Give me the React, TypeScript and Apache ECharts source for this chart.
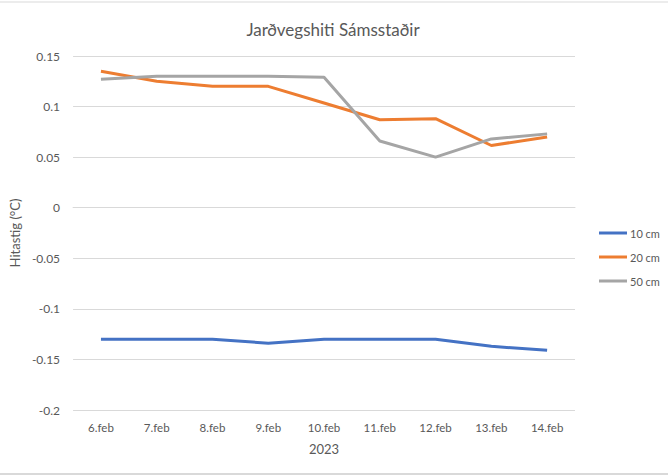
import React, { useEffect, useRef } from "react";
import * as echarts from "echarts";

const categories = ["6.feb", "7.feb", "8.feb", "9.feb", "10.feb", "11.feb", "12.feb", "13.feb", "14.feb"];
const s10 = [-0.13, -0.13, -0.13, -0.134, -0.13, -0.13, -0.13, -0.137, -0.141];
const s20 = [0.135, 0.125, 0.12, 0.12, 0.1035, 0.087, 0.088, 0.0615, 0.07];
const s50 = [0.127, 0.13, 0.13, 0.13, 0.129, 0.066, 0.05, 0.068, 0.073];
const seriesNames = ["10 cm", "20 cm", "50 cm"];
const colors = ["#4472C4", "#ED7D31", "#A5A5A5"];

const FONT = "Lato, 'Open Sans', sans-serif";
const TXT = "#595959";

export default function App() {
  const ref = useRef<HTMLDivElement>(null);
  useEffect(() => {
    if (!ref.current) return;
    const chart = echarts.init(ref.current, undefined, { renderer: "svg" });
    const data = [s10, s20, s50];
    chart.setOption({
      animation: false,
      backgroundColor: "#ffffff",
      textStyle: { fontFamily: FONT },
      title: {
        text: "Jarðvegshiti Sámsstaðir",
        left: 328,
        top: 16,
        textAlign: "center",
        textStyle: { fontFamily: FONT, fontSize: 17, fontWeight: "normal", color: TXT },
      },
      graphic: [
        { type: "line", shape: { x1: 0, y1: 2, x2: 668, y2: 2 }, style: { stroke: "#d9d9d9", lineWidth: 1 } },
        { type: "line", shape: { x1: 0, y1: 474, x2: 668, y2: 474 }, style: { stroke: "#d9d9d9", lineWidth: 2 } },
      ],
      legend: {
        orient: "vertical",
        left: 594,
        top: 221,
        itemWidth: 28,
        itemHeight: 3,
        itemGap: 10,
        icon: "rect",
        data: seriesNames,
        textStyle: { fontFamily: FONT, fontSize: 11, color: TXT, lineHeight: 14, padding: [0, 0, 0, -2] },
      },
      grid: { left: 63, right: 93, top: 56, bottom: 66, containLabel: false },
      xAxis: {
        type: "category",
        data: categories,
        boundaryGap: true,
        name: "2023",
        nameLocation: "middle",
        nameGap: 32,
        nameTextStyle: { fontFamily: FONT, fontSize: 13, color: TXT },
        axisLine: { show: true, lineStyle: { color: "#d9d9d9", width: 1 } },
        axisTick: { show: false },
        axisLabel: { fontFamily: FONT, fontSize: 11.5, color: TXT, margin: 11 },
      },
      yAxis: {
        type: "value",
        min: -0.2,
        max: 0.15,
        interval: 0.05,
        name: "Hitastig (°C)",
        nameLocation: "middle",
        nameGap: 51,
        nameTextStyle: { fontFamily: FONT, fontSize: 13, color: TXT },
        axisLine: { show: false },
        axisTick: { show: false },
        splitLine: { lineStyle: { color: "#d9d9d9", width: 1 } },
        axisLabel: {
          fontFamily: FONT,
          fontSize: 12,
          color: TXT,
          margin: 13,
          formatter: (v: number) => String(Math.round(v * 100) / 100),
        },
      },
      series: seriesNames.map((n, i) => ({
        name: n,
        type: "line",
        data: data[i],
        symbol: "none",
        color: colors[i],
        lineStyle: { color: colors[i], width: 3 },
        itemStyle: { color: colors[i] },
      })),
    });
    return () => chart.dispose();
  }, []);
  return (
    <div
      ref={ref}
      style={{ position: "fixed", left: 0, top: 0, width: 668, height: 476 }}
    />
  );
}
